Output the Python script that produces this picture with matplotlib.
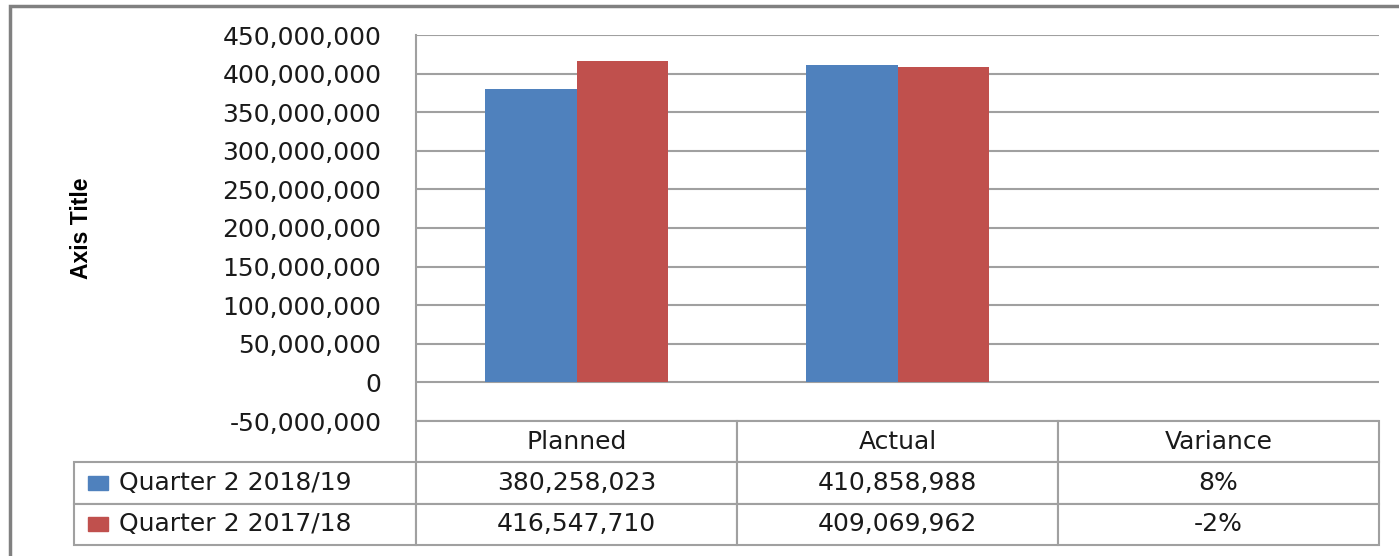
import matplotlib.pyplot as plt
from matplotlib.patches import Rectangle
from matplotlib.table import Table
from matplotlib.ticker import FuncFormatter, MultipleLocator

categories = ["Planned", "Actual", "Variance"]
series_names = ["Quarter 2 2018/19", "Quarter 2 2017/18"]
q2_2018 = [380258023, 410858988, 0.08]
q2_2017 = [416547710, 409069962, -0.02]
colors = ["#4F81BD", "#C0504D"]

GRID = "#A0A0A0"
TXT = "#1a1a1a"
FS = 18
W, H = 1399, 556


def fmt_cell(v):
    if abs(v) < 1:
        return f"{v * 100:.0f}%"
    return f"{v:,.0f}"


fig = plt.figure(figsize=(W / 100, H / 100), dpi=100)
fig.patch.set_facecolor("white")

# plot area in pixel terms
left, right, top, bottom = 416, 1379, 35, 421
ax = fig.add_axes([left / W, 1 - bottom / H, (right - left) / W, (bottom - top) / H])

bw = 1 / 3.5  # gap width 150%
x = list(range(len(categories)))
ax.bar([i - bw / 2 for i in x], q2_2018, width=bw, color=colors[0], zorder=3)
ax.bar([i + bw / 2 for i in x], q2_2017, width=bw, color=colors[1], zorder=3)

ax.set_xlim(-0.5, len(categories) - 0.5)
ax.set_ylim(-50000000, 450000000)
ax.yaxis.set_major_locator(MultipleLocator(50000000))
ax.yaxis.set_major_formatter(FuncFormatter(lambda v, p: f"{v:,.0f}"))
ax.grid(axis="y", color=GRID, linewidth=1.5, zorder=0)
ax.set_xticks([])
ax.tick_params(axis="y", length=0, pad=25, labelsize=FS, labelcolor=TXT)
for s in ["top", "right", "bottom"]:
    ax.spines[s].set_visible(False)
ax.spines["left"].set_color(GRID)
ax.spines["left"].set_linewidth(1.5)

fig.text(82 / W, 1 - 228 / H, "Axis Title", rotation=90, ha="center", va="center",
         fontsize=16.5, fontweight="bold", family=["Liberation Sans", "DejaVu Sans"])

# data table under the plot (bbox covers the value grid, labels hang left)
tab_left, tab_bottom = 74, 545
ph = bottom - top
pw = right - left
bbox = [0, -(tab_bottom - bottom) / ph, 1, (tab_bottom - bottom) / ph]
col_w = 1 / len(categories)
label_w = (left - tab_left) / pw
row_h = 1 / 3

tbl = Table(ax, bbox=bbox)
for j, cat in enumerate(categories):
    tbl.add_cell(0, j, col_w, row_h, text=cat, loc="center")
for i, (name, vals) in enumerate(zip(series_names, [q2_2018, q2_2017])):
    c = tbl.add_cell(i + 1, -1, label_w, row_h, text=name, loc="left")
    c.PAD = 45 / (left - tab_left)
    for j, v in enumerate(vals):
        tbl.add_cell(i + 1, j, col_w, row_h, text=fmt_cell(v), loc="center")
tbl.auto_set_font_size(False)
for cell in tbl.get_celld().values():
    cell.set_edgecolor(GRID)
    cell.set_linewidth(1.5)
    cell.get_text().set_fontsize(FS)
    cell.get_text().set_color(TXT)
ax.add_table(tbl)

# legend keys in the row label cells
rh = bbox[3] / 3
key_w, key_h = 20 / pw, 14 / ph
for i, col in enumerate(colors):
    yc = bbox[1] + bbox[3] - rh * (i + 1.5)
    ax.add_patch(Rectangle(((88 - left) / pw, yc - key_h / 2), key_w, key_h,
                           transform=ax.transAxes, color=col, clip_on=False))

# outer chart border (cropped on right and bottom)
fig.patches.append(Rectangle((9.5 / W, -0.1), 1.2, 1.1 - 5.5 / H, fill=False,
                             edgecolor="#808080", linewidth=2.5,
                             transform=fig.transFigure, figure=fig))

fig.savefig("out.png", dpi=100)
